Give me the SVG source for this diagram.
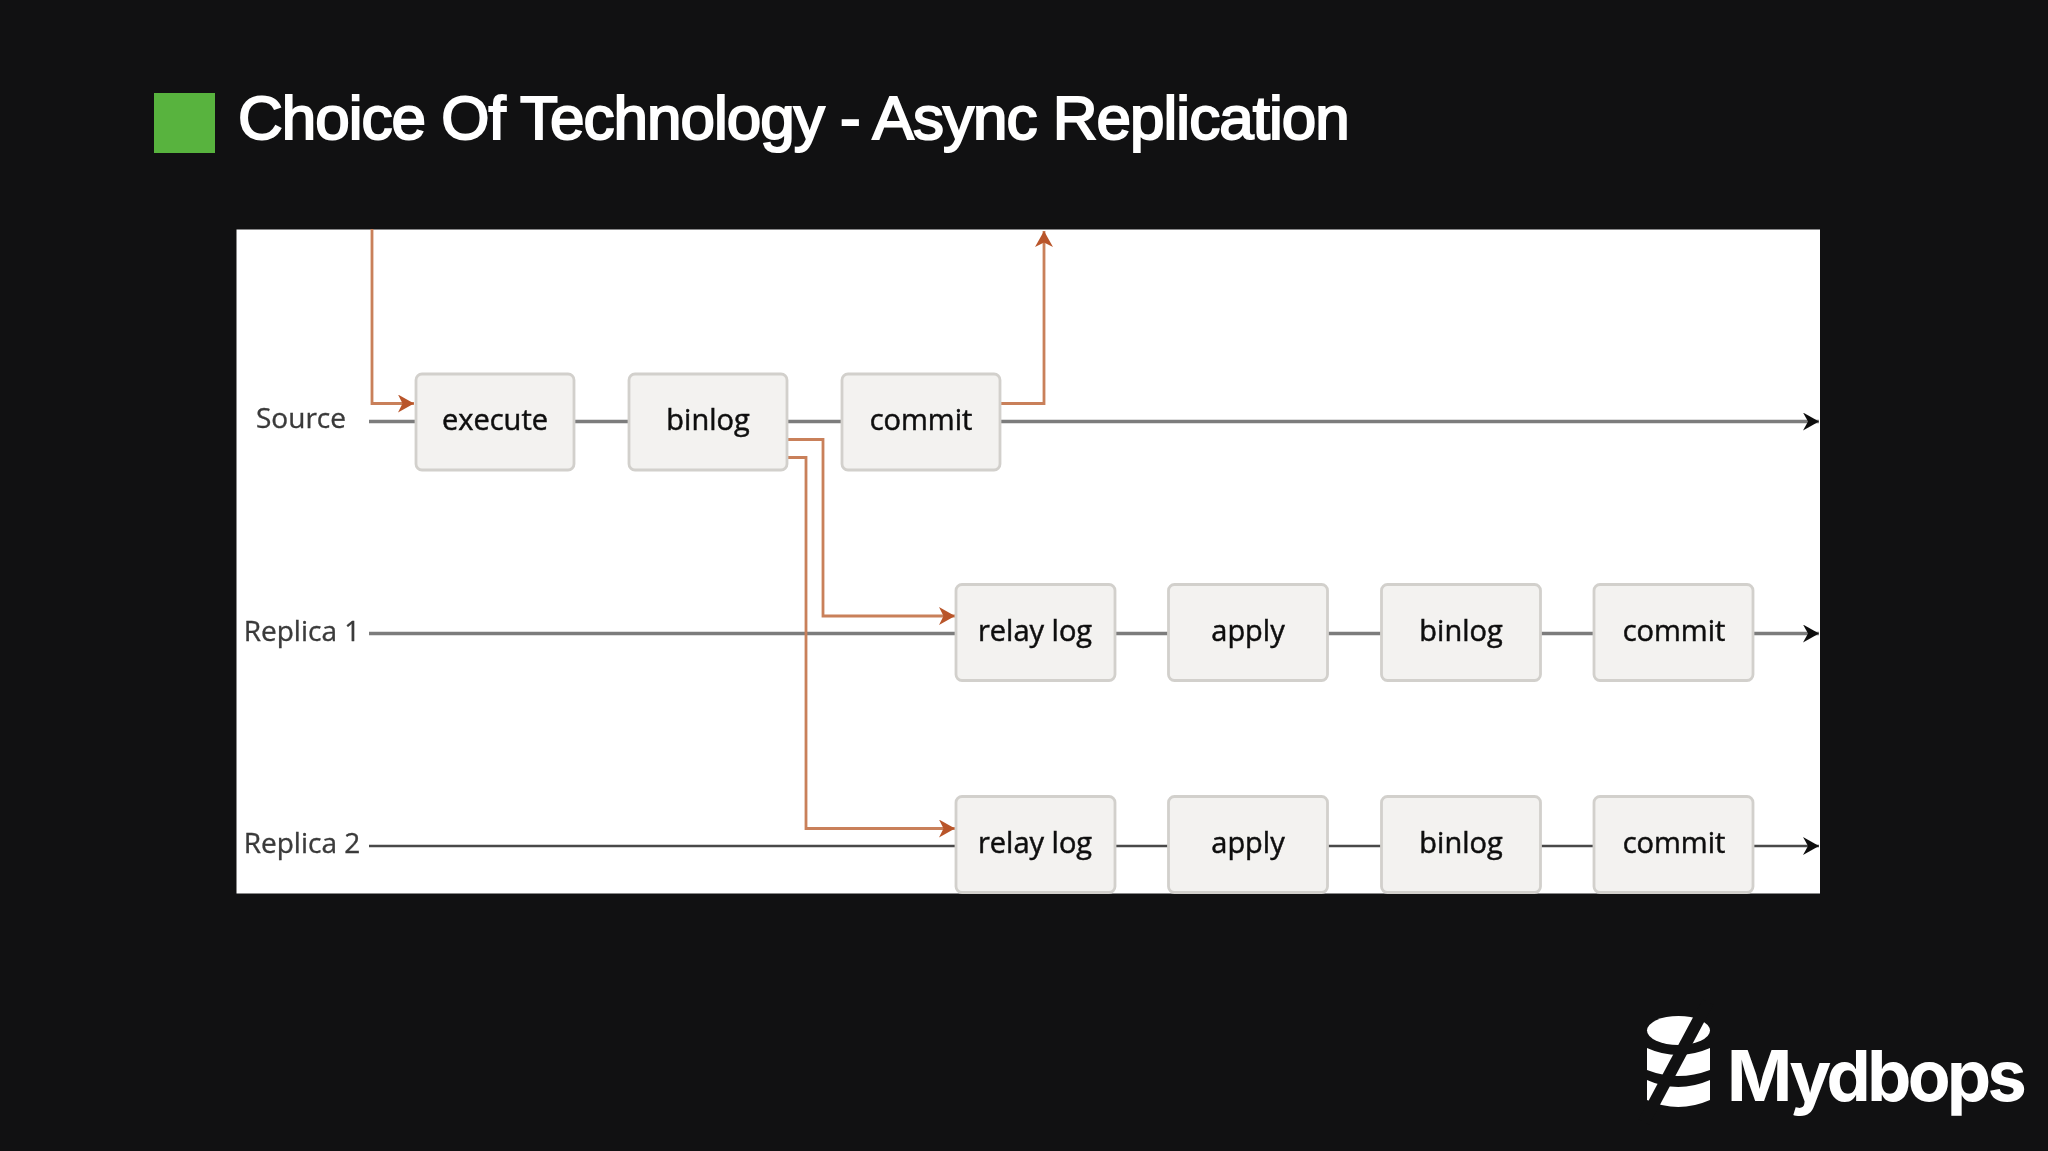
<svg xmlns="http://www.w3.org/2000/svg" width="2048" height="1151" viewBox="0 0 2048 1151">
<style>
.bg{fill:#111112}
.box{fill:#f3f2f0;stroke:#d2d0cc;stroke-width:2.8}
.t{font-family:"Open Sans","Noto Sans",sans-serif;font-size:29px;fill:#111;stroke:#111;stroke-width:.5;text-anchor:middle}
.lab{font-family:"Open Sans","Noto Sans",sans-serif;font-size:28px;fill:#3a3a3a;stroke:#3a3a3a;stroke-width:.35;text-anchor:middle}
.g{fill:none;stroke:#7b7b7b;stroke-width:3.6}
.d{fill:none;stroke:#4a4a4a;stroke-width:2.6}
.o{fill:none;stroke:#c9805a;stroke-width:2.8}
.title{font-family:"Liberation Sans",Arial,sans-serif;font-size:62px;fill:#fff;stroke:#fff;stroke-width:2;letter-spacing:-.98px}
.soft{filter:url(#soft)}
</style>
<defs>
<filter id="soft" x="-2%" y="-2%" width="104%" height="104%"><feGaussianBlur stdDeviation="0.7"/></filter>
<marker id="ao" markerUnits="userSpaceOnUse" markerWidth="18" markerHeight="20" refX="16" refY="9" orient="auto"><path d="M0 0L16 9L0 18L4.500 9Z" fill="#b9552a"/></marker>
<marker id="ak" markerUnits="userSpaceOnUse" markerWidth="18" markerHeight="20" refX="16" refY="9" orient="auto"><path d="M0 0L16 9L0 18L5 9Z" fill="#111"/></marker>
</defs>
<rect class="bg" width="2048" height="1151"/>
<rect id="accent" x="154" y="93" width="61" height="60" fill="#58b33e"/>
<text id="title" class="title" x="238" y="139">Choice Of Technology - Async Replication</text>
<rect id="panel" x="236.500" y="229.500" width="1583.500" height="664" fill="#fff"/>
<g class="soft">
<g id="connectors">
<path class="g" d="M369 421.500H416M574 421.500H629M788 421.500H842"/>
<path class="g" d="M1000 421.500H1819" marker-end="url(#ak)"/>
<path class="g" d="M369 633.500H956M1115 633.500H1168M1327 633.500H1381M1540 633.500H1594"/>
<path class="g" d="M1754 633.500H1819" marker-end="url(#ak)"/>
<path class="d" d="M369 846H956M1115 846H1168M1327 846H1381M1540 846H1594"/>
<path class="d" d="M1754 846H1819" marker-end="url(#ak)"/>
<path class="o" d="M372 229V403.500H414" marker-end="url(#ao)"/>
<path class="o" d="M1000 403.500H1044V231" marker-end="url(#ao)"/>
<path class="o" d="M788 439.500H823V616H955" marker-end="url(#ao)"/>
<path class="o" d="M788 457.500H806V828.500H955" marker-end="url(#ao)"/>
</g>
<g id="label-source"><text class="lab" x="301" y="428">Source</text></g>
<g id="label-replica1"><text class="lab" x="302" y="641">Replica 1</text></g>
<g id="label-replica2"><text class="lab" x="302" y="853">Replica 2</text></g>
<g id="source-execute"><rect class="box" x="416" y="374" width="158" height="96" rx="6"/><text class="t" x="495" y="430">execute</text></g>
<g id="source-binlog"><rect class="box" x="629" y="374" width="158" height="96" rx="6"/><text class="t" x="708" y="430">binlog</text></g>
<g id="source-commit"><rect class="box" x="842" y="374" width="158" height="96" rx="6"/><text class="t" x="921" y="430">commit</text></g>
<g id="r1-relay"><rect class="box" x="956" y="584.500" width="159" height="96" rx="6"/><text class="t" x="1035" y="640.500">relay log</text></g>
<g id="r1-apply"><rect class="box" x="1168.500" y="584.500" width="159" height="96" rx="6"/><text class="t" x="1248" y="640.500">apply</text></g>
<g id="r1-binlog"><rect class="box" x="1381.500" y="584.500" width="159" height="96" rx="6"/><text class="t" x="1461" y="640.500">binlog</text></g>
<g id="r1-commit"><rect class="box" x="1594" y="584.500" width="159" height="96" rx="6"/><text class="t" x="1674" y="640.500">commit</text></g>
<g id="r2-relay"><rect class="box" x="956" y="796.500" width="159" height="96" rx="6"/><text class="t" x="1035" y="853">relay log</text></g>
<g id="r2-apply"><rect class="box" x="1168.500" y="796.500" width="159" height="96" rx="6"/><text class="t" x="1248" y="853">apply</text></g>
<g id="r2-binlog"><rect class="box" x="1381.500" y="796.500" width="159" height="96" rx="6"/><text class="t" x="1461" y="853">binlog</text></g>
<g id="r2-commit"><rect class="box" x="1594" y="796.500" width="159" height="96" rx="6"/><text class="t" x="1674" y="853">commit</text></g>
</g>
<g id="logo">
<ellipse cx="1678.500" cy="1030.500" rx="31.500" ry="14.500" fill="#fff"/>
<path d="M1647 1048Q1678 1062 1710 1048V1070Q1678 1082 1647 1070Z" fill="#fff"/>
<path d="M1647 1080Q1678 1094 1710 1080V1100Q1678 1114 1647 1100Z" fill="#fff"/>
<path d="M1708 1002L1644 1122" stroke="#111112" stroke-width="12" fill="none"/>
<text x="1727" y="1101" font-family="Inter,'Open Sans',sans-serif" font-weight="700" font-size="70" fill="#fff" letter-spacing="-3.6">Mydbops</text>
</g>
</svg>
